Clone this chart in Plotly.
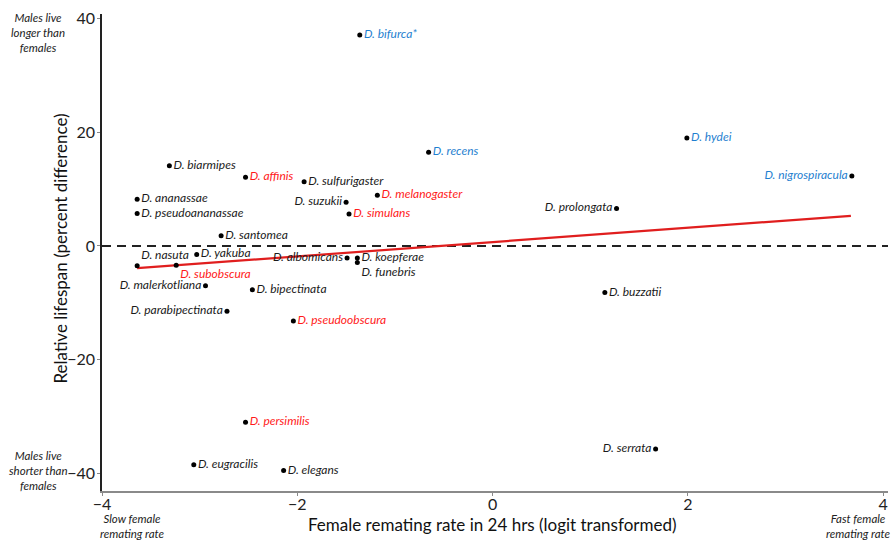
import plotly.graph_objects as go

species = ["D. bifurca*", "D. recens", "D. hydei", "D. nigrospiracula", "D. prolongata",
           "D. buzzatii", "D. serrata", "D. biarmipes", "D. affinis", "D. sulfurigaster",
           "D. ananassae", "D. pseudoananassae", "D. suzukii", "D. melanogaster", "D. simulans",
           "D. santomea", "D. yakuba", "D. nasuta", "D. subobscura", "D. albomicans",
           "D. koepferae", "D. funebris", "D. malerkotliana", "D. bipectinata",
           "D. parabipectinata", "D. pseudoobscura", "D. persimilis", "D. eugracilis", "D. elegans"]
remating = [-1.36, -0.655, 1.99, 3.68, 1.27,
            1.15, 1.67, -3.31, -2.53, -1.93,
            -3.64, -3.64, -1.50, -1.18, -1.47,
            -2.78, -3.03, -3.64, -3.24, -1.49,
            -1.385, -1.385, -2.94, -2.46,
            -2.72, -2.04, -2.53, -3.06, -2.14]
lifespan = [37.1, 16.5, 19.0, 12.3, 6.6,
            -8.2, -35.7, 14.1, 12.1, 11.3,
            8.2, 5.7, 7.7, 8.9, 5.6,
            1.8, -1.5, -3.5, -3.4, -2.1,
            -2.1, -2.9, -7.0, -7.7,
            -11.5, -13.2, -31.0, -38.5, -39.5]
group = ["blue", "blue", "blue", "blue", "black",
         "black", "black", "black", "red", "black",
         "black", "black", "black", "red", "red",
         "black", "black", "black", "red", "black",
         "black", "black", "black", "black",
         "black", "red", "red", "black", "black"]
label_side = ["middle right", "middle right", "middle right", "middle left", "middle left",
              "middle right", "middle left", "middle right", "middle right", "middle right",
              "middle right", "middle right", "middle left", "middle right", "middle right",
              "middle right", "middle right", "top right", "bottom right", "middle left",
              "middle right", "bottom right", "middle left", "middle right",
              "middle left", "middle right", "middle right", "middle right", "middle right"]

fit_x = [-3.64, 3.67]
fit_y = [-3.9, 5.3]

x_ticks = [-4, -2, 0, 2, 4]
y_ticks = [-40, -20, 0, 20, 40]

x_title = "Female remating rate in 24 hrs (logit transformed)"
y_title = "Relative lifespan (percent difference)"

palette = {"blue": "#1f7fd0", "red": "#ff1a1a", "black": "#1a1a1a"}
FONT = "Lato"

fig = go.Figure()

fig.add_hline(y=0, line=dict(color="#222222", width=2, dash="9px,6px"), layer="below")

fig.add_trace(go.Scatter(
    x=fit_x, y=fit_y, mode="lines",
    line=dict(color="#e01e1e", width=2.2), hoverinfo="skip", showlegend=False))

fig.add_trace(go.Scatter(
    x=remating, y=lifespan, mode="markers+text",
    text=species, textposition=label_side,
    textfont=dict(family=FONT, size=12, style="italic", color=[palette[g] for g in group]),
    marker=dict(color="black", size=5),
    showlegend=False, cliponaxis=False))

corner_font = dict(family=FONT, size=11.5, style="italic", color="#222222")
def note(x, y, text, font, angle=0, xanchor="center"):
    fig.add_annotation(xref="paper", yref="paper", x=x, y=y, xanchor=xanchor,
                       yanchor="middle", text=text, showarrow=False, font=font,
                       align="center", textangle=angle)

note(-0.081, 0.962, "Males live<br>longer than<br>females", corner_font)
note(-0.081, 0.042, "Males live<br>shorter than<br>females", corner_font)
note(0.039, -0.074, "Slow female<br>remating rate", corner_font)
note(1.006, -0.074, "Fast female<br>remating rate", corner_font, xanchor="right")
note(0.497, -0.070, x_title, dict(family=FONT, size=17, color="#111111"))
note(-0.053, 0.509, y_title, dict(family=FONT, size=17, color="#111111"), angle=-90)

fig.update_layout(
    width=896, height=541,
    margin=dict(l=102, r=8, t=14, b=50, autoexpand=False),
    paper_bgcolor="white", plot_bgcolor="white",
    font=dict(family=FONT, color="#222222"),
    xaxis=dict(range=[-4, 4.05], tickvals=x_ticks, showgrid=False, zeroline=False,
               showline=True, linecolor="#8a8a8a", linewidth=2, automargin=False,
               ticks="outside", ticklen=3, tickcolor="#8a8a8a", ticklabelstandoff=-5,
               tickfont=dict(size=16, family=FONT)),
    yaxis=dict(range=[-43.1, 40.8], tickvals=y_ticks, showgrid=False, zeroline=False,
               showline=True, linecolor="#222222", linewidth=1.5, automargin=False,
               ticks="outside", ticklen=3, tickcolor="#888888", ticklabelstandoff=-1,
               tickfont=dict(size=16, family=FONT)),
)

# remove the default page margin so the figure fills the window exactly
fig.write_html("out.html", config={"displayModeBar": False},
               post_script="document.body.style.margin='0px';")
